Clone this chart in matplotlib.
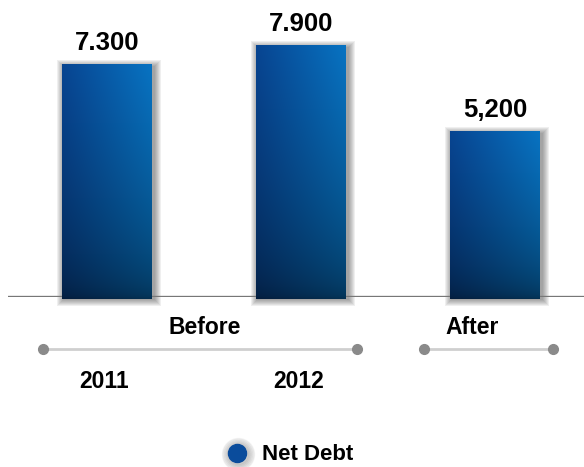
import numpy as np
import matplotlib
matplotlib.use("Agg")
import matplotlib.pyplot as plt
from matplotlib.patches import Rectangle

# Net debt figures
years = ["2011", "2012", ""]
values = [7300, 7900, 5200]
value_labels = ["7.300", "7.900", "5,200"]
groups = ["Before", "After"]
legend_label = "Net Debt"

W, H = 584, 467
plt.rcParams["font.family"] = ["Liberation Sans", "DejaVu Sans"]
plt.rcParams["font.weight"] = "bold"

fig = plt.figure(figsize=(W / 100, H / 100), dpi=100)
fig.patch.set_facecolor("white")


def fx(px):
    return px / W


def fy(py):
    # pixel rows counted from the top
    return 1 - py / H


# axes: baseline sits at row 297, spans x from 8 to the right edge
ax = fig.add_axes([fx(8), fy(297), 1 - fx(8), 297 / H])
ax.axis("off")

x = np.arange(len(values))
bw = 0.463
px_x = 1 / 194.25   # one pixel in x data units
px_y = 1 / 0.0318   # one pixel in y data units

# bar fill: darker on the left, lighter on the right, deepening toward the bottom
left = np.array([0.03, 0.27, 0.57])
right = np.array([0.03, 0.45, 0.76])
gu, gv = np.meshgrid(np.linspace(0, 1, 60), np.linspace(1, 0, 160))
base = left + (right - left) * gu[..., None]
shade = 0.42 + 0.58 * gv ** 0.55
grad = np.clip(base * shade[..., None], 0, 1)

for xi, v, lab in zip(x, values, value_labels):
    x0 = xi - bw / 2
    # soft shadow around each bar
    for k in range(1, 8):
        ax.add_patch(Rectangle((x0 - k * px_x + 2 * px_x, -k * px_y - 2 * px_y),
                               bw + 2 * k * px_x, v + 2 * k * px_y,
                               facecolor="#303030", edgecolor="none",
                               alpha=0.075, zorder=2, clip_on=False))
    ax.imshow(grad, extent=[x0, x0 + bw, -2 * px_y, v], aspect="auto",
              interpolation="bilinear", zorder=3, clip_on=False)
    ax.text(xi, v + 10 * px_y, lab, ha="center", va="bottom",
            fontsize=18.5, fontweight="bold", color="black", zorder=5)

ax.set_xlim(-0.51, 2.456)
ax.set_ylim(0, 9340)
ax.axhline(0, color="#777777", lw=2.4, zorder=2.5)

# timeline below the bars
for (a, b) in [(43, 357), (424, 553)]:
    fig.add_artist(plt.Line2D([fx(a), fx(b)], [fy(349), fy(349)],
                              color="#cfcfcf", lw=2))
    for p in (a, b):
        fig.add_artist(plt.Line2D([fx(p)], [fy(349)], marker="o", markersize=7,
                                  color="#8a8a8a", lw=0))

fig.text(fx(205), fy(328), groups[0], ha="center", va="center", fontsize=16.5, fontweight="bold")
fig.text(fx(472), fy(327), groups[1], ha="center", va="center", fontsize=16.5, fontweight="bold")

for xi, yr in zip(x, years):
    if yr:
        xp = 107 + xi * 194.25 - 3
        fig.text(fx(xp), fy(381), yr, ha="center", va="center", fontsize=16.5, fontweight="bold")

# legend
for k in range(1, 6):
    fig.add_artist(plt.Line2D([fx(238)], [fy(454)], marker="o", markersize=13 + 2 * k,
                              color="#404040", alpha=0.06, lw=0))
fig.add_artist(plt.Line2D([fx(237)], [fy(453)], marker="o", markersize=13,
                          color="#0a4c9c", lw=0))
fig.text(fx(262), fy(454), legend_label, ha="left", va="center", fontsize=16, fontweight="bold")

fig.savefig("out.png", dpi=100, facecolor="white")
